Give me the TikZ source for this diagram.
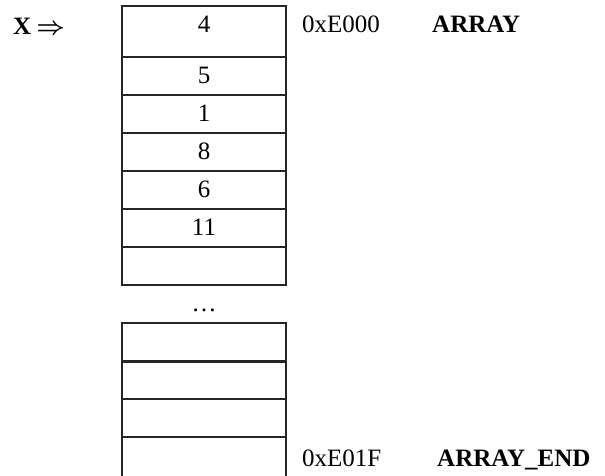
\documentclass[tikz,border=0pt]{standalone}
\usepackage{fontspec}
\setmainfont{Liberation Serif}
\begin{document}
\begin{tikzpicture}[x=1pt,y=-1pt,
  cell/.style={draw=black!85, line width=1.4pt, minimum width=164pt,
    minimum height=38pt, inner sep=0pt, outer sep=0pt},
  txt/.style={anchor=base, inner sep=0pt, font=\fontsize{25}{30}\selectfont},
  lbl/.style={txt, anchor=base west},
]
\path[use as bounding box, clip] (0,0) rectangle (605,475);

% memory cells, first block
\node[cell, minimum height=51pt] (c1) at (204,31.5) {};
\node[cell] (c2) at (204,76)  {};
\node[cell] (c3) at (204,114) {};
\node[cell] (c4) at (204,152) {};
\node[cell] (c5) at (204,190) {};
\node[cell] (c6) at (204,228) {};
\node[cell] (c7) at (204,266) {};

% memory cells, last block (runs off the bottom edge)
\node[cell, minimum height=39pt] (d1) at (204,342.5) {};
\node[cell] (d2) at (204,380) {};
\node[cell] (d3) at (204,418) {};
\node[cell, minimum height=40pt] (d4) at (204,457) {};

% cell values
\node[txt] (v1) at (204,32)  {4};
\node[txt] (v2) at (204,83)  {5};
\node[txt] (v3) at (204,121) {1};
\node[txt] (v4) at (204,159) {8};
\node[txt] (v5) at (204,197) {6};
\node[txt] (v6) at (204,235) {11};
\node[txt] (gap) at (204,311) {\ldots};

% pointer and addresses
\node[lbl] (ptr) at (13,34) {\textbf{X}\hspace{5pt}{\boldmath$\Rightarrow$}};
\node[lbl] (a0) at (302,32) {0xE000};
\node[lbl] (n0) at (432,32) {\textbf{ARRAY}};
\node[lbl] (a1) at (302,466) {0xE01F};
\node[lbl] (n1) at (437,466) {\textbf{ARRAY\_END}};
\end{tikzpicture}
\end{document}
